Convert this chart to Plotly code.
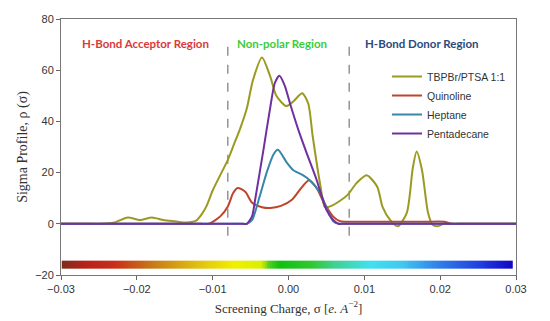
import numpy as np
import plotly.graph_objects as go

# ---------------- data ----------------
sigma_tbp = [-0.030, -0.027, -0.0245, -0.023, -0.0212, -0.0196, -0.018, -0.0165, -0.015, -0.0134,
             -0.0122, -0.0115, -0.0108, -0.010, -0.009, -0.008, -0.0072, -0.0064, -0.0055,
             -0.0047, -0.0035, -0.0024, -0.0016, -0.0003, 0.0006, 0.0018, 0.0026, 0.0032,
             0.0042, 0.0048, 0.0055, 0.0068, 0.0078, 0.009, 0.0103, 0.0117, 0.0124, 0.0134,
             0.0144, 0.0156, 0.0164, 0.0169, 0.0176, 0.0184, 0.019, 0.0196, 0.0205, 0.022,
             0.025, 0.030]
rho_tbp = [0, 0, 0, 0.5, 2.5, 1.5, 2.5, 1.5, 1.0, 0.5,
           1.2, 3.5, 7, 13, 19, 25, 31, 37, 45,
           56, 65, 57.5, 50, 46, 47.7, 51, 47, 34,
           15, 6.5, 6.8, 9, 11.3, 16, 19, 14.5, 6.6, 1.5,
           -1, 4.3, 22, 28.2, 21, 4.3, -0.4, -1, 0, 0,
           0, 0]

sigma_quin = [-0.030, -0.024, -0.018, -0.013, -0.0115, -0.0105, -0.009, -0.008, -0.0073,
              -0.0067, -0.0057, -0.0048, -0.0035, -0.0024, -0.001, 0.0005, 0.0015, 0.0027,
              0.0037, 0.0046, 0.0059, 0.0068, 0.0075, 0.011, 0.015, 0.018, 0.0205, 0.0215,
              0.023, 0.026, 0.030]
rho_quin = [0, 0, 0, 0, 0, 0, 2.9, 6.8, 12,
            14, 12.5, 8.2, 6.5, 6.2, 7, 9.5, 13.3, 17,
            14, 8.7, 2.8, 1.0, 0.8, 0.8, 0.8, 0.8, 0.8, 0,
            0, 0, 0]

sigma_hept = [-0.030, -0.024, -0.018, -0.012, -0.008, -0.0065, -0.006, -0.0055, -0.0048,
              -0.0038, -0.0029, -0.002, -0.0014, -0.0002, 0.0006, 0.0019, 0.0028, 0.0042,
              0.0051, 0.0059, 0.0066, 0.0072, 0.008, 0.012, 0.018, 0.024, 0.030]
rho_hept = [0, 0, 0, 0, 0, 0, 0, 0, 1.5,
            10.7, 19.8, 27, 28.9, 23.8, 21, 19, 17, 12,
            5.5, 1, 0, 0, 0, 0, 0, 0, 0]

sigma_pent = [-0.030, -0.024, -0.018, -0.012, -0.008, -0.0065, -0.006, -0.0055, -0.0048,
              -0.0044, -0.0033, -0.0024, -0.0018, -0.0012, -0.0005, 0.0002, 0.0013, 0.0024,
              0.0037, 0.005, 0.0059, 0.0066, 0.0072, 0.008, 0.012, 0.018, 0.024, 0.030]
rho_pent = [0, 0, 0, 0, 0, 0, 0, 0, 3,
            9.4, 29, 45.6, 55, 57.8, 54, 47, 36.7, 27.6,
            17.2, 5.5, 1.5, 0, 0, 0, 0, 0, 0, 0]

series_names = ["TBPBr/PTSA 1:1", "Quinoline", "Heptane", "Pentadecane"]
series_colors = ["#9a9a22", "#c0442a", "#3a86a8", "#7030a0"]

region_labels = ["H-Bond Acceptor Region", "Non-polar Region", "H-Bond Donor Region"]
region_x = [-0.0188, -0.0009, 0.0176]
region_y = [70.6, 70.6, 70.6]
region_colors = ["#d93a3a", "#3ccc3c", "#2c4a7c"]

boundary_x = [-0.008, 0.008]
boundary_y = [-4.7, 70]

x_ticks = [-0.03, -0.02, -0.01, 0.00, 0.01, 0.02, 0.03]
y_ticks = [-20, 0, 20, 40, 60, 80]

# colour strip (screening-charge scale)
strip_sigma_range = [-0.0299, 0.0296]
strip_y_edges = [-17.6, -14.4]
strip_colorscale = [
    [0.0, "#7b2d1a"], [0.05, "#b5221a"], [0.12, "#c8301a"], [0.2, "#c87818"],
    [0.3, "#e0c010"], [0.38, "#f0f000"], [0.44, "#d8f000"], [0.455, "#60d020"],
    [0.48, "#10c010"], [0.55, "#30c830"], [0.6, "#40d090"], [0.68, "#40e0f0"],
    [0.75, "#40c8f0"], [0.83, "#3080e8"], [0.92, "#2040e0"], [1.0, "#1000c0"],
]

# ---------------- figure ----------------
fig = go.Figure()

n_strip = 240
strip_edges = np.linspace(strip_sigma_range[0], strip_sigma_range[1], n_strip + 1)
strip_centers = 0.5 * (strip_edges[:-1] + strip_edges[1:])
fig.add_trace(go.Heatmap(
    x=strip_edges, y=strip_y_edges, z=[list(strip_centers)],
    colorscale=strip_colorscale, zmin=-0.03, zmax=0.03,
    showscale=False, hoverinfo="skip",
))

for bx in boundary_x:
    fig.add_trace(go.Scatter(
        x=[bx, bx], y=boundary_y, mode="lines",
        line=dict(color="#7a7a7a", width=1.2, dash="dash"),
        showlegend=False, hoverinfo="skip",
    ))

for sx, sy, name, col in zip([sigma_tbp, sigma_quin, sigma_hept, sigma_pent],
                             [rho_tbp, rho_quin, rho_hept, rho_pent],
                             series_names, series_colors):
    fig.add_trace(go.Scatter(
        x=sx, y=sy, mode="lines", name=name,
        line=dict(color=col, width=2, shape="spline", smoothing=0.7),
    ))

for txt, xx, yy, col in zip(region_labels, region_x, region_y, region_colors):
    fig.add_annotation(x=xx, y=yy, text="<b>%s</b>" % txt, showarrow=False,
                       font=dict(family="Lato", size=11.5, color=col),
                       xanchor="center", yanchor="middle")

# page body adds an 8px margin, so the figure is sized to land the plot area
fig.update_layout(
    width=542, height=313,
    margin=dict(l=53, r=34, t=11, b=46),
    paper_bgcolor="white", plot_bgcolor="white",
    showlegend=True,
    legend=dict(x=0.7165, y=0.832, xanchor="left", yanchor="top",
                font=dict(family="Arial", size=10.5, color="#333333"),
                bgcolor="rgba(0,0,0,0)", itemwidth=30, tracegroupgap=0),
    font=dict(family="Arial", size=11, color="#333333"),
)

fig.update_xaxes(
    range=[-0.03, 0.03], tickvals=x_ticks, tickformat=".2f",
    ticks="outside", ticklen=4, tickcolor="#666666",
    showline=True, linecolor="#777777", linewidth=1, mirror=True,
    showgrid=False, zeroline=False, automargin=False,
    tickfont=dict(family="Arial", size=11, color="#333333"),
    title=dict(text="Screening Charge, σ [<i>e. A</i><sup>−2</sup>]",
               font=dict(family="Liberation Serif", size=13, color="#333333"),
               standoff=9),
)
fig.update_yaxes(
    range=[-20, 80], tickvals=y_ticks,
    ticks="outside", ticklen=4, tickcolor="#666666",
    showline=True, linecolor="#777777", linewidth=1, mirror=True,
    showgrid=False, zeroline=False, automargin=False,
    tickfont=dict(family="Arial", size=11, color="#333333"),
    title=dict(text="Sigma Profile, ρ (σ)",
               font=dict(family="Liberation Serif", size=14, color="#333333"),
               standoff=4),
)

fig.write_html("out.html")
